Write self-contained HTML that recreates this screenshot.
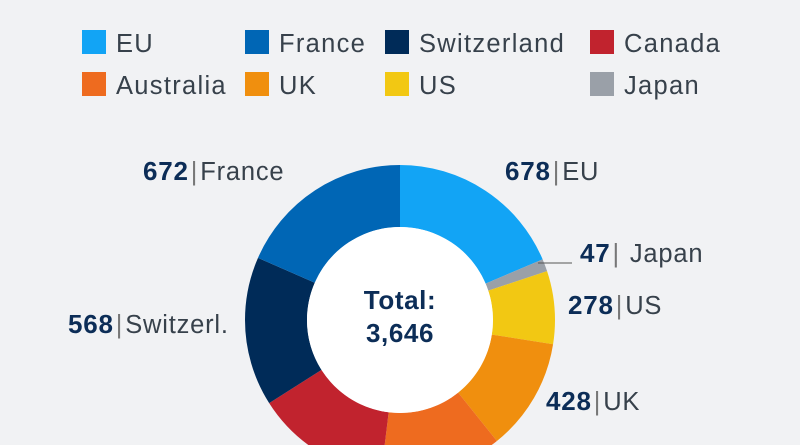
<!DOCTYPE html>
<html><head><meta charset="utf-8"><style>
body{margin:0;width:800px;height:445px;overflow:hidden;background:#f1f2f4;font-family:"Liberation Sans",sans-serif}
</style></head><body>
<svg width="800" height="445" viewBox="0 0 800 445" style="position:absolute;left:0;top:0">
<g font-size="25.5" fill="#37414b" letter-spacing="1.3">
<rect x="82" y="30" width="24" height="24" fill="#12a4f5"/><text x="116" y="52">EU</text>
<rect x="245" y="30" width="24" height="24" fill="#0066b5"/><text x="279" y="52">France</text>
<rect x="385" y="30" width="24" height="24" fill="#002b58"/><text x="419" y="52">Switzerland</text>
<rect x="590" y="30" width="24" height="24" fill="#c1232e"/><text x="624" y="52">Canada</text>
<rect x="82" y="72" width="24" height="24" fill="#ee6b1f"/><text x="116" y="94">Australia</text>
<rect x="245" y="72" width="24" height="24" fill="#f08f0e"/><text x="279" y="94">UK</text>
<rect x="385" y="72" width="24" height="24" fill="#f2c813"/><text x="419" y="94">US</text>
<rect x="590" y="72" width="24" height="24" fill="#9aa0a8"/><text x="624" y="94">Japan</text>
</g>
<g transform="rotate(-90 400 320)" fill="none" stroke-width="62">
<circle cx="400" cy="320" r="124" pathLength="3646" stroke="#12a4f5" stroke-dasharray="678 3646" stroke-dashoffset="0"/>
<circle cx="400" cy="320" r="124" pathLength="3646" stroke="#9aa0a8" stroke-dasharray="47 3646" stroke-dashoffset="-678"/>
<circle cx="400" cy="320" r="124" pathLength="3646" stroke="#f2c813" stroke-dasharray="278 3646" stroke-dashoffset="-725"/>
<circle cx="400" cy="320" r="124" pathLength="3646" stroke="#f08f0e" stroke-dasharray="428 3646" stroke-dashoffset="-1003"/>
<circle cx="400" cy="320" r="124" pathLength="3646" stroke="#ee6b1f" stroke-dasharray="463 3646" stroke-dashoffset="-1431"/>
<circle cx="400" cy="320" r="124" pathLength="3646" stroke="#c1232e" stroke-dasharray="512 3646" stroke-dashoffset="-1894"/>
<circle cx="400" cy="320" r="124" pathLength="3646" stroke="#002b58" stroke-dasharray="568 3646" stroke-dashoffset="-2406"/>
<circle cx="400" cy="320" r="124" pathLength="3646" stroke="#0066b5" stroke-dasharray="672 3646" stroke-dashoffset="-2974"/>
</g>
<circle cx="400" cy="320" r="93" fill="#fff"/>
<line x1="538" y1="263" x2="572" y2="263" stroke="#555" stroke-width="1"/>
<g font-size="25.5" fill="#37414b" letter-spacing="0.8">
<text x="143" y="180"><tspan font-weight="bold" fill="#0c2d57" font-size="26">672</tspan><tspan fill="#777" dx="2">|</tspan><tspan dx="2">France</tspan></text>
<text x="505" y="180"><tspan font-weight="bold" fill="#0c2d57" font-size="26">678</tspan><tspan fill="#777" dx="2">|</tspan><tspan dx="2">EU</tspan></text>
<text x="580" y="262"><tspan font-weight="bold" fill="#0c2d57" font-size="26">47</tspan><tspan fill="#777" dx="2">|</tspan><tspan dx="2"> Japan</tspan></text>
<text x="568" y="314"><tspan font-weight="bold" fill="#0c2d57" font-size="26">278</tspan><tspan fill="#777" dx="2">|</tspan><tspan dx="2">US</tspan></text>
<text x="68" y="333"><tspan font-weight="bold" fill="#0c2d57" font-size="26">568</tspan><tspan fill="#777" dx="2">|</tspan><tspan dx="2">Switzerl.</tspan></text>
<text x="546" y="410"><tspan font-weight="bold" fill="#0c2d57" font-size="26">428</tspan><tspan fill="#777" dx="2">|</tspan><tspan dx="2">UK</tspan></text>
</g>
<g font-size="26" font-weight="bold" fill="#0c2d57" text-anchor="middle" letter-spacing="0.6">
<text x="400" y="309">Total:</text>
<text x="400" y="342">3,646</text>
</g>
</svg>
</body></html>
